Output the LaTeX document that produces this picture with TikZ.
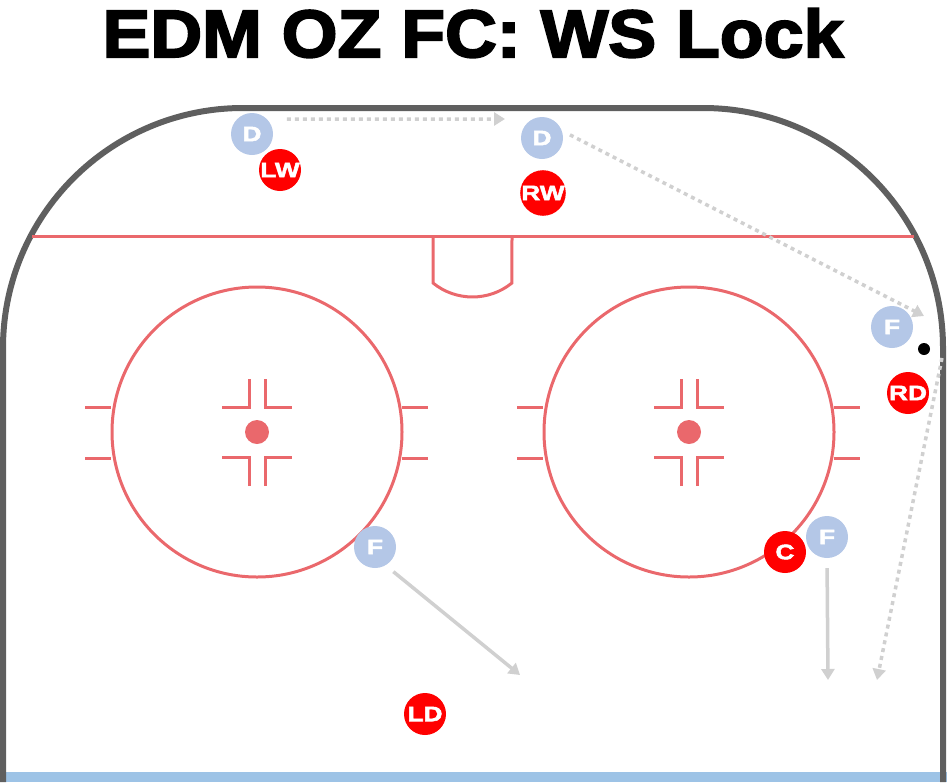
\documentclass[tikz,border=0pt]{standalone}
\usepackage{fontspec}
\setmainfont{Liberation Sans}
\newfontfamily\heavyfont[FakeStretch=1.25, FakeBold=2.5]{Liberation Sans}
\newfontfamily\headfont[FakeStretch=1.07, FakeBold=3]{Liberation Sans}
\usetikzlibrary{arrows.meta}

\definecolor{boardGray}{RGB}{95,95,95}
\definecolor{lineRed}{RGB}{234,104,108}
\definecolor{iceBlue}{RGB}{157,195,230}
\definecolor{offBlue}{RGB}{180,199,231}
\definecolor{defRed}{RGB}{255,0,0}
\definecolor{pathGray}{RGB}{208,208,208}

\tikzset{
  board/.style={draw=boardGray, line width=6pt},
  rinkLine/.style={draw=lineRed, line width=3pt},
  player/.style={circle, minimum size=42pt, inner sep=0pt, text=white,
    font=\heavyfont\bfseries\fontsize{21}{21}\selectfont},
  offence/.style={player, fill=offBlue},
  defence/.style={player, fill=defRed},
  skate/.style={draw=pathGray, line width=3.5pt, -{Triangle[width=13pt,length=11pt]}},
  pass/.style={skate, dash pattern=on 4pt off 4pt},
}

\begin{document}
\begin{tikzpicture}[x=1pt,y=-1pt]
  \useasboundingbox (0,0) rectangle (947,782);

  % ice and boards
  \fill[iceBlue] (0,772) rectangle (947,782);
  \draw[board] (3,782) -- (3,348) arc[start angle=180, end angle=270, radius=240]
    -- (703,108) arc[start angle=270, end angle=360, radius=240] -- (943,782);

  % blue line and crease
  \draw[rinkLine] (32,236) -- (914,236);
  \draw[rinkLine] (433,236) -- (433,283) arc[start angle=129, end angle=51, radius=62.7] -- (512,236);

  % faceoff circles
  \foreach \cx in {257,689} {
    \draw[rinkLine] (\cx,432) circle[radius=145];
    \fill[lineRed] (\cx,432) circle[radius=12];
    \draw[rinkLine] (\cx-172,407) -- (\cx-146,407);
    \draw[rinkLine] (\cx-172,458) -- (\cx-146,458);
    \draw[rinkLine] (\cx+145,407) -- (\cx+171,407);
    \draw[rinkLine] (\cx+145,458) -- (\cx+171,458);
    \draw[rinkLine] (\cx-8,379) -- (\cx-8,407) -- (\cx-35,407);
    \draw[rinkLine] (\cx+8,379) -- (\cx+8,407) -- (\cx+35,407);
    \draw[rinkLine] (\cx-8,486) -- (\cx-8,457) -- (\cx-35,457);
    \draw[rinkLine] (\cx+8,486) -- (\cx+8,457) -- (\cx+35,457);
  }

  \node (title) [anchor=base, font=\headfont\bfseries\fontsize{67}{67}\selectfont] at (473,57) {EDM OZ FC: WS Lock};

  % players
  \node (leftD) [offence] at (252,134) {D};
  \node (leftWing) [defence] at (280,170) {LW};
  \node (rightD) [offence] at (542,138) {D};
  \node (rightWing) [defence] at (543,193) {RW};
  \node (wallF) [offence] at (892,327) {F};
  \node (puck) [circle, fill=black, minimum size=12pt, inner sep=0pt] at (924,349) {};
  \node (rightDef) [defence] at (908,393) {RD};
  \node (slotF) [offence] at (375,547) {F};
  \node (centre) [defence] at (785,552) {C};
  \node (lowF) [offence] at (827,537) {F};
  \node (leftDef) [defence] at (425,714) {LD};

  % movement
  \coordinate (dropEnd) at (505,119);
  \coordinate (wallEnd) at (924,316);
  \coordinate (rimStart) at (942,358);
  \coordinate (rimEnd) at (877,680);
  \coordinate (slotEnd) at (520,675);
  \coordinate (lowEnd) at (828,680);
  \draw[pass, shorten <=20pt] (leftD.north east) -- (dropEnd);
  \draw[pass, shorten <=9pt] (rightD.20) -- (wallEnd);
  \draw[pass] (rimStart) -- (rimEnd);
  \draw[skate, shorten <=10pt] (slotF.-60) -- (slotEnd);
  \draw[skate, shorten <=10pt] (lowF.south) -- (lowEnd);
\end{tikzpicture}
\end{document}
